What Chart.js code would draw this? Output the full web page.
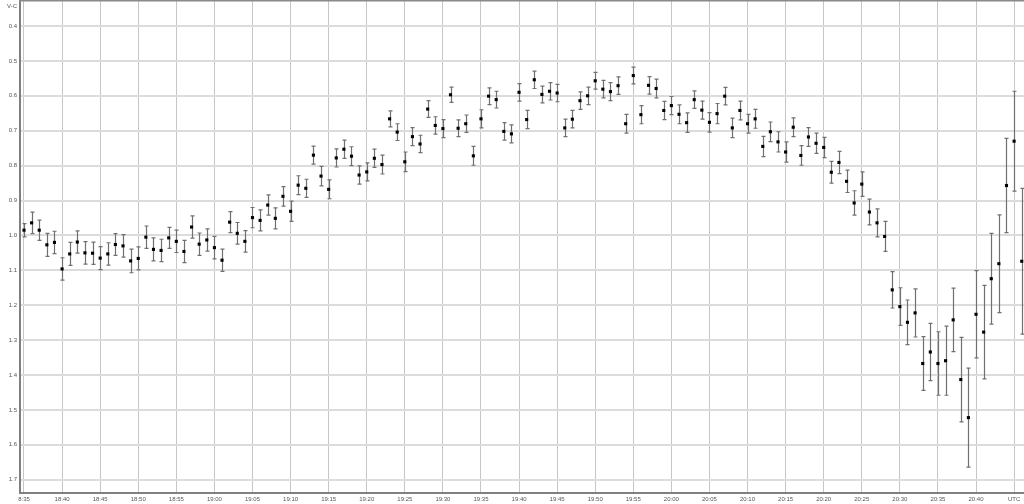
<!DOCTYPE html>
<html><head><meta charset="utf-8">
<script src="https://cdn.jsdelivr.net/npm/chart.js@4/dist/chart.umd.min.js"></script>
<style>html,body{margin:0;padding:0;background:#fff;overflow:hidden}#wrap{position:relative;width:1024px;height:504px}</style>
</head><body><div id="wrap"><canvas id="c" width="1024" height="504"></canvas></div>
<script>
const times = [
"18:35","18:36","18:37","18:38","18:39","18:40","18:41","18:42","18:43","18:44","18:45","18:46","18:47","18:48","18:49",
"18:50","18:51","18:52","18:53","18:54","18:55","18:56","18:57","18:58","18:59",
"19:00","19:01","19:02","19:03","19:04","19:05","19:06","19:07","19:08","19:09","19:10","19:11","19:12","19:13","19:14",
"19:15","19:16","19:17","19:18","19:19","19:20","19:21","19:22","19:23","19:24","19:25","19:26","19:27","19:28","19:29",
"19:30","19:31","19:32","19:33","19:34","19:35","19:36","19:37","19:38","19:39","19:40","19:41","19:42","19:43","19:44",
"19:45","19:46","19:47","19:48","19:49","19:50","19:51","19:52","19:53","19:54","19:55","19:56","19:57","19:58","19:59",
"20:00","20:01","20:02","20:03","20:04","20:05","20:06","20:07","20:08","20:09","20:10","20:11","20:12","20:13","20:14",
"20:15","20:16","20:17","20:18","20:19","20:20","20:21","20:22","20:23","20:24","20:25","20:26","20:27","20:28","20:29",
"20:30","20:31","20:32","20:33","20:34","20:35","20:36","20:37","20:38","20:39","20:40","20:41","20:42","20:43","20:44",
"20:45","20:46"];
const vcValues = [
0.985,0.964,0.985,1.027,1.020,1.096,1.053,1.019,1.050,1.051,1.065,1.053,1.026,1.030,1.073,
1.066,1.005,1.040,1.043,1.007,1.017,1.046,0.976,1.025,1.013,
1.035,1.071,0.962,0.994,1.017,0.949,0.957,0.913,0.951,0.888,0.931,0.856,0.865,0.770,0.830,
0.868,0.778,0.753,0.773,0.827,0.818,0.779,0.797,0.666,0.704,0.789,0.717,0.738,0.638,0.685,
0.694,0.597,0.693,0.680,0.772,0.666,0.601,0.611,0.702,0.709,0.590,0.668,0.554,0.596,0.587,
0.592,0.692,0.667,0.614,0.600,0.557,0.581,0.588,0.571,0.680,0.542,0.654,0.570,0.579,0.642,
0.628,0.653,0.677,0.611,0.641,0.676,0.651,0.601,0.692,0.642,0.680,0.666,0.745,0.703,0.732,
0.761,0.690,0.771,0.718,0.736,0.748,0.819,0.791,0.845,0.907,0.853,0.933,0.964,1.003,1.156,
1.204,1.249,1.222,1.367,1.334,1.367,1.359,1.242,1.413,1.522,1.226,1.277,1.124,1.081,0.857,
0.730,1.074];
const vcErrors = [
0.019,0.031,0.029,0.033,0.032,0.032,0.033,0.032,0.032,0.032,0.033,0.032,0.031,0.032,0.034,
0.033,0.032,0.033,0.032,0.030,0.032,0.032,0.032,0.032,0.032,
0.032,0.032,0.030,0.031,0.031,0.029,0.030,0.029,0.030,0.028,0.029,0.027,0.026,0.026,0.028,
0.027,0.026,0.026,0.027,0.026,0.026,0.026,0.027,0.023,0.024,0.028,0.026,0.025,0.024,0.025,
0.026,0.022,0.024,0.025,0.027,0.026,0.024,0.024,0.025,0.026,0.025,0.026,0.025,0.024,0.025,
0.025,0.025,0.025,0.025,0.025,0.024,0.025,0.026,0.025,0.027,0.024,0.026,0.025,0.027,0.026,
0.026,0.027,0.028,0.025,0.026,0.028,0.029,0.025,0.028,0.027,0.027,0.027,0.029,0.028,0.029,
0.029,0.027,0.028,0.027,0.029,0.029,0.031,0.032,0.032,0.035,0.035,0.037,0.040,0.043,0.052,
0.054,0.064,0.069,0.077,0.082,0.091,0.099,0.091,0.121,0.142,0.125,0.134,0.130,0.140,0.135,
0.143,0.209];
const yTickValues = [0.4,0.5,0.6,0.7,0.8,0.9,1.0,1.1,1.2,1.3,1.4,1.5,1.6,1.7];
const xTickTimes = ["18:35","18:40","18:45","18:50","18:55","19:00","19:05","19:10","19:15","19:20","19:25","19:30","19:35",
"19:40","19:45","19:50","19:55","20:00","20:05","20:10","20:15","20:20","20:25","20:30","20:35","20:40","20:45"];
const xTickLabels = ["8:35","18:40","18:45","18:50","18:55","19:00","19:05","19:10","19:15","19:20","19:25","19:30","19:35",
"19:40","19:45","19:50","19:55","20:00","20:05","20:10","20:15","20:20","20:25","20:30","20:35","20:40","UTC"];
const yAxisTitle = "V-C";

function toMin(t){const p=t.split(':').map(Number);return p[0]*60+p[1]-18*60;}
const points = times.map((t,i)=>({x:toMin(t), y:vcValues[i]}));
const xTickValues = xTickTimes.map(toMin);
const FONT = {family:"'Liberation Sans', Arial, sans-serif", size:6};

const errorBars = {
  id:'errorBars',
  beforeDatasetsDraw(chart){
    const ctx=chart.ctx, xs=chart.scales.x, ys=chart.scales.y, a=chart.chartArea;
    ctx.save();
    ctx.beginPath(); ctx.rect(a.left,a.top,a.right-a.left,a.bottom-a.top); ctx.clip();
    ctx.strokeStyle='#707070'; ctx.lineWidth=1.2;
    points.forEach((p,i)=>{
      const px=Math.round(xs.getPixelForValue(p.x))+0.5;
      const y1=ys.getPixelForValue(p.y-vcErrors[i]);
      const y2=ys.getPixelForValue(p.y+vcErrors[i]);
      ctx.beginPath();
      ctx.moveTo(px,y1); ctx.lineTo(px,y2);
      ctx.moveTo(px-2,y1); ctx.lineTo(px+2,y1);
      ctx.moveTo(px-2,y2); ctx.lineTo(px+2,y2);
      ctx.stroke();
    });
    ctx.restore();
  }
};
const frame = {
  id:'frame',
  afterDraw(chart){
    const ctx=chart.ctx, a=chart.chartArea;
    ctx.save();
    ctx.fillStyle='#8a8a8a';
    ctx.fillRect(a.left-1,0,a.right-a.left+1,1.5);
    ctx.fillStyle='#555';
    ctx.font="6px 'Liberation Sans', Arial, sans-serif";
    ctx.textAlign='right'; ctx.textBaseline='middle';
    ctx.fillText(yAxisTitle,17,6);
    ctx.restore();
  }
};

new Chart(document.getElementById('c'), {
  type:'scatter',
  data:{datasets:[{data:points, pointStyle:'rect', pointRadius:2.2, pointBackgroundColor:'#000', pointBorderColor:'#000', pointBorderWidth:0, showLine:false, clip:false}]},
  options:{
    responsive:false, animation:false, events:[],
    layout:{padding:0, autoPadding:false},
    plugins:{legend:{display:false}, tooltip:{enabled:false}},
    scales:{
      x:{type:'linear', min:34.475, max:166.3,
        grid:{color:'#c6c6c6', lineWidth:1, drawTicks:false},
        border:{display:true, color:'#808080', width:2},
        ticks:{font:FONT, color:'#555', padding:3, maxRotation:0, autoSkip:false,
          callback:(v)=>{const i=xTickValues.indexOf(v); return i>=0?xTickLabels[i]:'';}},
        afterBuildTicks:(s)=>{s.ticks=xTickValues.map(v=>({value:v}));},
        afterFit:(s)=>{s.height=11; s.paddingLeft=0; s.paddingRight=0;}
      },
      y:{type:'linear', reverse:true, min:0.3255, max:1.738,
        grid:{color:'#dcdcdc', lineWidth:2, drawTicks:false},
        border:{display:true, color:'#808080', width:2},
        ticks:{font:FONT, color:'#555', padding:3, callback:(v)=>Number(v).toFixed(1)},
        afterBuildTicks:(s)=>{s.ticks=yTickValues.map(v=>({value:v}));},
        afterFit:(s)=>{s.width=20; s.paddingTop=0; s.paddingBottom=0;}
      }
    }
  },
  plugins:[errorBars, frame]
});
</script></body></html>
